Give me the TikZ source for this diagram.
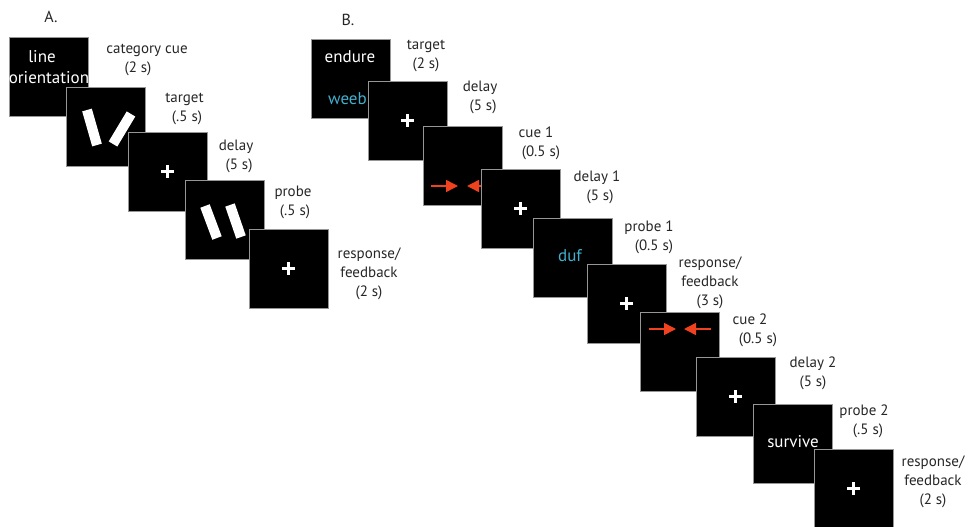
\documentclass[tikz,border=0pt]{standalone}
\usepackage{fontspec}
\setmainfont{PT Sans}
\usetikzlibrary{arrows.meta}
\definecolor{cuecyan}{RGB}{65,175,205}
\definecolor{cuered}{RGB}{240,66,30}
\definecolor{framegray}{RGB}{150,150,150}
\begin{document}
\begin{tikzpicture}[x=1pt,y=-1pt,
  screen/.style={draw=framegray, line width=0.8pt, fill=black, minimum size=79pt, inner sep=0pt, anchor=north west},
  lbl/.style={font=\fontsize{15}{19}\selectfont, align=center, inner sep=0pt, anchor=north, text=black!85},
  panel/.style={font=\fontsize{16}{19}\selectfont, inner sep=0pt, anchor=base, text=black!85},
  scrtxt/.style={font=\fontsize{17}{21}\selectfont, text=white, inner sep=0pt},
  bar/.style={white, line width=10pt},
  cuearrow/.style={cuered, line width=1.6pt, -{Triangle[length=12pt,width=12pt]}},
  fix/.pic={\draw[white, line width=3pt] (-6.5,0) -- (6.5,0) (0,-6.5) -- (0,6.5);}
]
\useasboundingbox (0,0) rectangle (972,527);

% panel letters
\node[panel] (pa) at (51,23) {A.};
\node[panel] (pb) at (348,26) {B.};

% ---------- Panel A ----------
\node[screen] (a1) at (9,37) {};
\node[scrtxt, align=center] (a1t) at (49,67.5) {\hspace*{-14pt}line\\orientation};
\node[lbl] (la1) at (147,39.7) {\strut category cue\\\hspace*{-18pt}(2 s)};

\node[screen] (a2) at (66,87) {};
\draw[bar] (87,110) -- (97,145);
\draw[bar] (131,114) -- (113,144);
\node[lbl] (la2) at (184.5,88.7) {\strut target\\\hspace*{5pt}(.5 s)};

\node[screen] (a3) at (128,132) {};
\pic at (a3.center) {fix};
\node[lbl] (la3) at (236,136.7) {\strut delay\\\hspace*{6pt}(5 s)};

\node[screen] (a4) at (185,180) {};
\draw[bar] (205,206) -- (217,238);
\draw[bar] (230,205) -- (241,237);
\node[lbl] (la4) at (293,182.7) {\strut probe\\\hspace*{4pt}(.5 s)};

\node[screen] (a5) at (249,229) {};
\pic at (a5.center) {fix};
\node[lbl] (la5) at (369,244.7) {\strut response/\\feedback\\(2 s)};

% ---------- Panel B ----------
\node[screen] (b1) at (311,39) {};
\node[scrtxt, anchor=base] (b1t) at (350,63) {endure};
\node[scrtxt, anchor=base west, text=cuecyan] (b1w) at (328,104) {weeb};
\node[lbl] (lb1) at (426,35.7) {\strut target\\(2 s)};

\node[screen] (b2) at (368,81) {};
\pic at (b2.center) {fix};
\node[lbl] (lb2) at (480,77.7) {\strut delay\\\hspace*{6pt}(5 s)};

\node[screen] (b3) at (423,126) {};
\coordinate (b3r0) at (431,186);
\coordinate (b3r1) at (458,186);
\coordinate (b3l0) at (494,186);
\coordinate (b3l1) at (467,186);
\draw[cuearrow] (b3r0) -- (b3r1);
\draw[cuearrow] (b3l0) -- (b3l1);
\node[lbl] (lb3) at (536,123.7) {\strut cue 1\\\hspace*{10pt}(0.5 s)};

\node[screen] (b4) at (481,169) {};
\pic at (b4.center) {fix};
\node[lbl] (lb4) at (597,167.7) {\strut delay 1\\\hspace*{6pt}(5 s)};

\node[screen] (b5) at (533,218) {};
\node[scrtxt, anchor=base, text=cuecyan] (b5t) at (570,261) {duf};
\node[lbl] (lb5) at (649,217.7) {\strut probe 1\\\hspace*{10pt}(0.5 s)};

\node[screen] (b6) at (587,264) {};
\pic at (b6.center) {fix};
\node[lbl] (lb6) at (710,253.7) {\strut response/\\feedback\\(3 s)};

\node[screen] (b7) at (640,312) {};
\coordinate (b7r0) at (649,329);
\coordinate (b7r1) at (676,329);
\coordinate (b7l0) at (711,329);
\coordinate (b7l1) at (684,329);
\draw[cuearrow] (b7r0) -- (b7r1);
\draw[cuearrow] (b7l0) -- (b7l1);
\node[lbl] (lb7) at (750,310.7) {\strut cue 2\\\hspace*{16pt}(0.5 s)};

\node[screen] (b8) at (696,357) {};
\pic at (b8.center) {fix};
\node[lbl] (lb8) at (813,353.7) {\strut delay 2\\(5 s)};

\node[screen] (b9) at (753,404) {};
\node[scrtxt, anchor=base] (b9t) at (793,447) {survive};
\node[lbl] (lb9) at (864,401.7) {\strut probe 2\\\hspace*{8pt}(.5 s)};

\node[screen] (b10) at (814,449) {};
\pic at (b10.center) {fix};
\node[lbl] (lb10) at (933,452.7) {\strut response/\\feedback\\(2 s)};
\end{tikzpicture}
\end{document}
